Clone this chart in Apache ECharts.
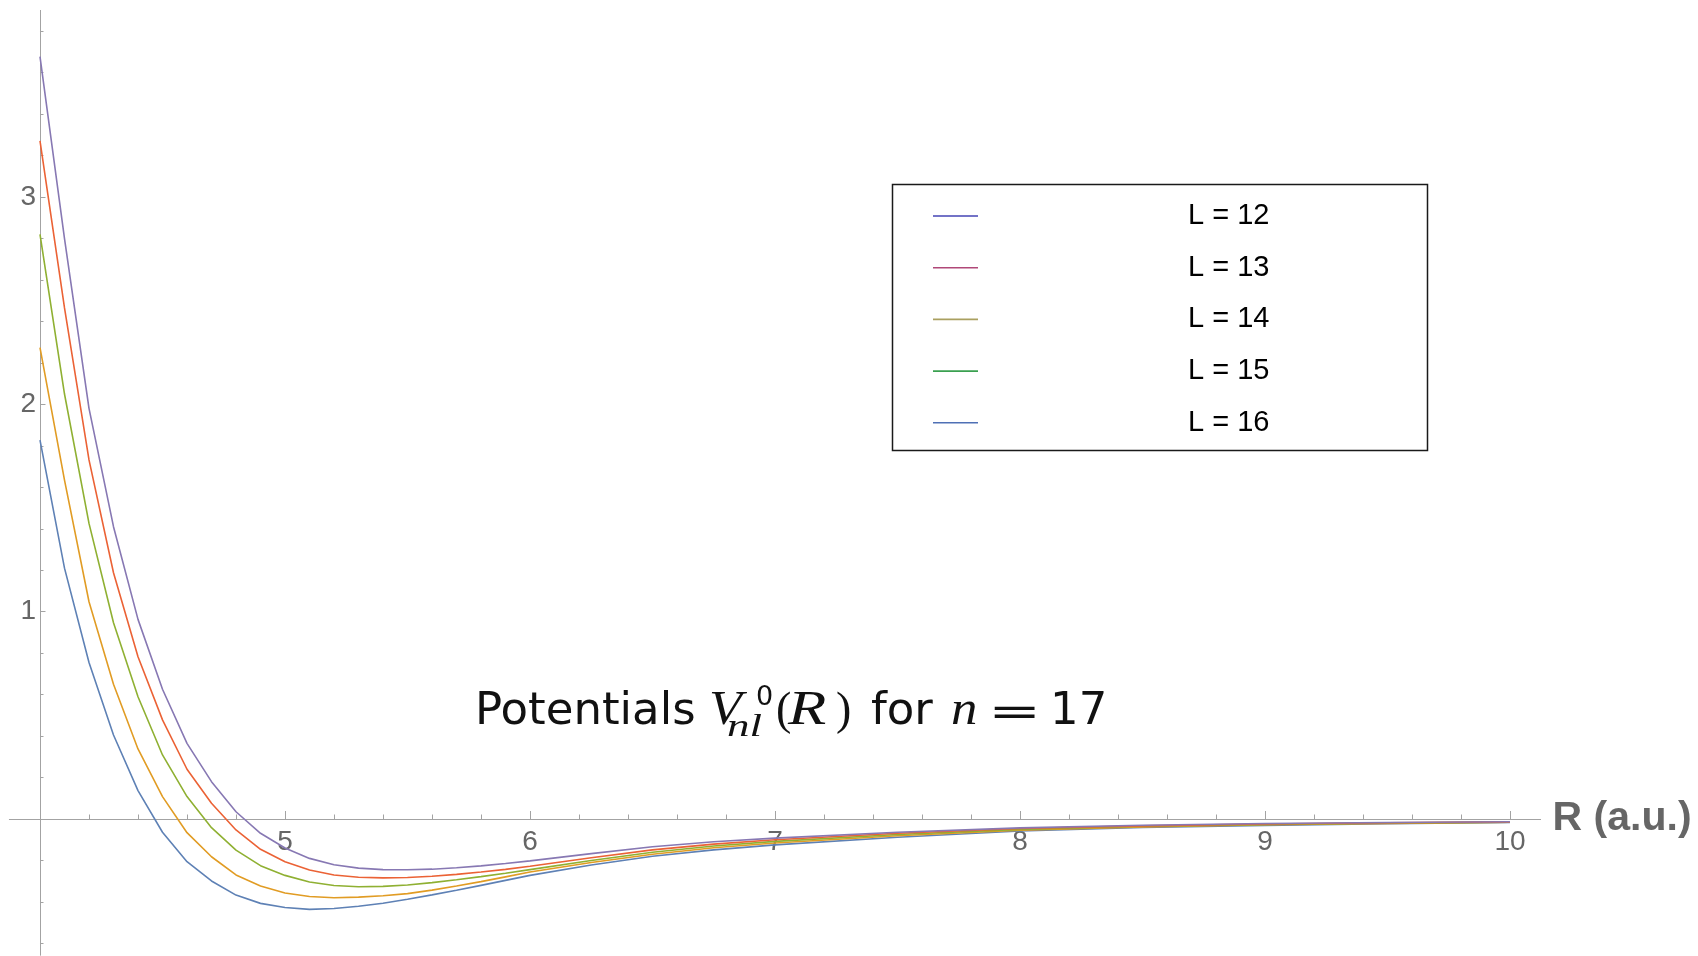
<!DOCTYPE html>
<html>
<head>
<meta charset="utf-8">
<script src="https://cdn.jsdelivr.net/npm/echarts@6/dist/echarts.min.js"></script>
<style>
html,body{margin:0;padding:0;background:#fff;}
#chart{width:1698px;height:956px;}
</style>
</head>
<body>
<div id="chart"></div>
<script>
// ---------------- data ----------------
const rValues = [4.0,4.1,4.2,4.3,4.4,4.5,4.6,4.7,4.8,4.9,5.0,5.1,5.2,5.3,5.4,5.5,5.6,5.7,5.8,5.9,6.0,6.25,6.5,6.75,7.0,7.5,8.0,8.5,9.0,9.5,10.0];
const seriesNames = ['L = 12','L = 13','L = 14','L = 15','L = 16'];
const vL12 = [1.828,1.21,0.755,0.405,0.137,-0.064,-0.206,-0.299,-0.367,-0.407,-0.427,-0.436,-0.432,-0.421,-0.406,-0.387,-0.366,-0.344,-0.320,-0.296,-0.272,-0.222,-0.180,-0.149,-0.125,-0.088,-0.058,-0.041,-0.031,-0.023,-0.017];
const vL13 = [2.274,1.635,1.048,0.650,0.338,0.108,-0.066,-0.182,-0.270,-0.323,-0.357,-0.374,-0.380,-0.377,-0.370,-0.360,-0.343,-0.323,-0.302,-0.279,-0.256,-0.210,-0.170,-0.139,-0.116,-0.081,-0.054,-0.038,-0.028,-0.021,-0.016];
const vL14 = [2.820,2.05,1.426,0.947,0.590,0.309,0.108,-0.042,-0.150,-0.225,-0.272,-0.304,-0.321,-0.327,-0.325,-0.318,-0.307,-0.293,-0.278,-0.262,-0.244,-0.200,-0.160,-0.130,-0.108,-0.075,-0.050,-0.035,-0.026,-0.019,-0.015];
const vL15 = [3.271,2.465,1.732,1.188,0.783,0.478,0.240,0.076,-0.053,-0.146,-0.206,-0.246,-0.270,-0.281,-0.284,-0.282,-0.276,-0.267,-0.256,-0.243,-0.228,-0.187,-0.149,-0.121,-0.100,-0.069,-0.046,-0.033,-0.024,-0.018,-0.014];
const vL16 = [3.677,2.80,1.981,1.41,0.963,0.626,0.365,0.180,0.035,-0.069,-0.140,-0.190,-0.221,-0.237,-0.244,-0.245,-0.242,-0.235,-0.226,-0.215,-0.202,-0.167,-0.134,-0.110,-0.092,-0.064,-0.043,-0.030,-0.022,-0.017,-0.013];
const xTickLabels = [5,6,7,8,9,10];
const xMajorTicks = [5,6,7,8,9,10];
const xMinorTicks = [4.2,4.4,4.6,4.8,5.2,5.4,5.6,5.8,6.2,6.4,6.6,6.8,7.2,7.4,7.6,7.8,8.2,8.4,8.6,8.8,9.2,9.4,9.6,9.8];
const yTickLabels = [1,2,3];
const yMajorTicks = [1,2,3];
const yMinorTicks = [-0.6,-0.4,-0.2,0.2,0.4,0.6,0.8,1.2,1.4,1.6,1.8,2.2,2.4,2.6,2.8,3.2,3.4,3.6,3.8];
const xAxisName = 'R (a.u.)';

// ---------------- styles / layout ----------------
const lineColors = ['#5E81B5','#E19C24','#8FB032','#EB6235','#8778B3'];
const legendColors = ['#4444b4','#b04878','#aaa060','#3aa050','#4f70b5'];
const axisGray = '#a3a3a3';
const labelGray = '#666666';
const X_MIN = 3.875, X_MAX = 10.125, Y_MIN = -0.656, Y_MAX = 3.9;
const GRID = {left: 9.375, right: 157.4, top: 10.5, bottom: 1};
const W = 1698, H = 956;
const gridH = H - GRID.top - GRID.bottom;
const gridW = W - GRID.left - GRID.right;
// place the axes where the other axis is 4 (x) and 0 (y)
const X_OFFSET = -((0 - Y_MIN) / (Y_MAX - Y_MIN)) * gridH;
const Y_OFFSET = -((4 - X_MIN) / (X_MAX - X_MIN)) * gridW;

const allValues = [vL12, vL13, vL14, vL15, vL16];

const chart = echarts.init(document.getElementById('chart'), null, {renderer: 'canvas'});

function xAxisCfg(ticks, len, labels, withName) {
  const a = {
    type: 'value', min: X_MIN, max: X_MAX, position: 'bottom', offset: X_OFFSET,
    axisLine: {show: true, onZero: false, lineStyle: {color: axisGray, width: 1}},
    axisTick: {show: true, inside: true, length: len, customValues: ticks, lineStyle: {color: axisGray, width: 1}},
    axisLabel: labels ? {show: true, customValues: labels, margin: 9, fontSize: 28, color: labelGray, fontFamily: 'Liberation Sans'} : {show: false},
    splitLine: {show: false}, minorTick: {show: false}
  };
  if (withName) {
    a.name = xAxisName;
    a.nameLocation = 'end';
    a.nameGap = 12;
    a.nameTextStyle = {fontSize: 41, fontWeight: 'bold', color: labelGray, fontFamily: 'Liberation Sans', align: 'left', verticalAlign: 'middle', padding: [10, 0, 0, 0]};
  }
  return a;
}
function yAxisCfg(ticks, len, labels) {
  return {
    type: 'value', min: Y_MIN, max: Y_MAX, position: 'left', offset: Y_OFFSET,
    axisLine: {show: true, onZero: false, lineStyle: {color: axisGray, width: 1}},
    axisTick: {show: true, inside: true, length: len, customValues: ticks, lineStyle: {color: axisGray, width: 1}},
    axisLabel: labels ? {show: true, customValues: labels, margin: 4, fontSize: 28, color: labelGray, fontFamily: 'Liberation Sans', padding: [5, 0, 0, 0]} : {show: false},
    splitLine: {show: false}, minorTick: {show: false}
  };
}

const sansFont = 'DejaVu Sans';
const mathFont = 'Liberation Serif';
function txt(text, x, baseline, size, family, style, sx) {
  return {
    type: 'text', x: x, y: baseline - 0.345 * size, z: 100, scaleX: sx || 1,
    style: {
      text: text, x: 0, y: 0,
      font: (style || 'normal') + ' normal ' + size + 'px "' + family + '"',
      fill: '#111', align: 'left', verticalAlign: 'middle', textAlign: 'left', textVerticalAlign: 'middle'
    }
  };
}
const BL = 728;

const option = {
  animation: false,
  backgroundColor: '#ffffff',
  textStyle: {fontFamily: 'Liberation Sans'},
  grid: {left: GRID.left, right: GRID.right, top: GRID.top, bottom: GRID.bottom, containLabel: false, outerBoundsMode: 'none'},
  xAxis: [
    xAxisCfg(xMajorTicks, 8, xTickLabels, true),
    xAxisCfg(xMinorTicks, 4.5, null, false)
  ],
  yAxis: [
    yAxisCfg(yMajorTicks, 5.5, yTickLabels),
    yAxisCfg(yMinorTicks, 3.5, null)
  ],
  legend: {
    orient: 'vertical', left: 933, top: 201, padding: 0, itemGap: 21.7,
    itemWidth: 45, itemHeight: 1.6, icon: 'rect', selectedMode: false,
    data: seriesNames.map((n, i) => ({name: n, itemStyle: {color: legendColors[i]}})),
    formatter: n => '{t|' + n + '}',
    textStyle: {lineHeight: 30, height: 30,
      rich: {t: {padding: [0, 0, 0, 205], fontSize: 29, fontFamily: 'Liberation Sans', color: '#000', lineHeight: 30, height: 30}}}
  },
  series: seriesNames.map((n, i) => ({
    name: n, type: 'line', xAxisIndex: 0, yAxisIndex: 0,
    data: rValues.map((r, k) => [r, allValues[i][k]]),
    showSymbol: false, symbol: 'none', smooth: false, clip: true,
    lineStyle: {color: lineColors[i], width: 1.6},
    itemStyle: {color: lineColors[i]},
    emphasis: {disabled: true}
  })),
  graphic: [
    {type: 'rect', z: 50, shape: {x: 892.5, y: 184.5, width: 535, height: 266}, style: {fill: 'none', stroke: '#1a1a1a', lineWidth: 1.5}},
    txt('Potentials', 475, BL, 45, sansFont, 'normal'),
    txt('V', 709, BL, 49, mathFont, 'italic', 1.1),
    txt('0', 756, BL - 21, 27, sansFont, 'normal'),
    txt('nl', 727, BL + 11, 31, mathFont, 'italic', 1.45),
    txt('(', 776, BL, 46, mathFont, 'normal'),
    txt('R', 788, BL, 49, mathFont, 'italic', 1.28),
    txt(')', 836, BL, 46, mathFont, 'normal'),
    txt('for', 871, BL, 45, sansFont, 'normal'),
    txt('n', 951, BL, 48, mathFont, 'italic', 1.1),
    txt('=', 988, BL, 41, sansFont, 'normal', 1.55),
    txt('17', 1050, BL, 45, sansFont, 'normal')
  ]
};
chart.setOption(option);
</script>
</body>
</html>
